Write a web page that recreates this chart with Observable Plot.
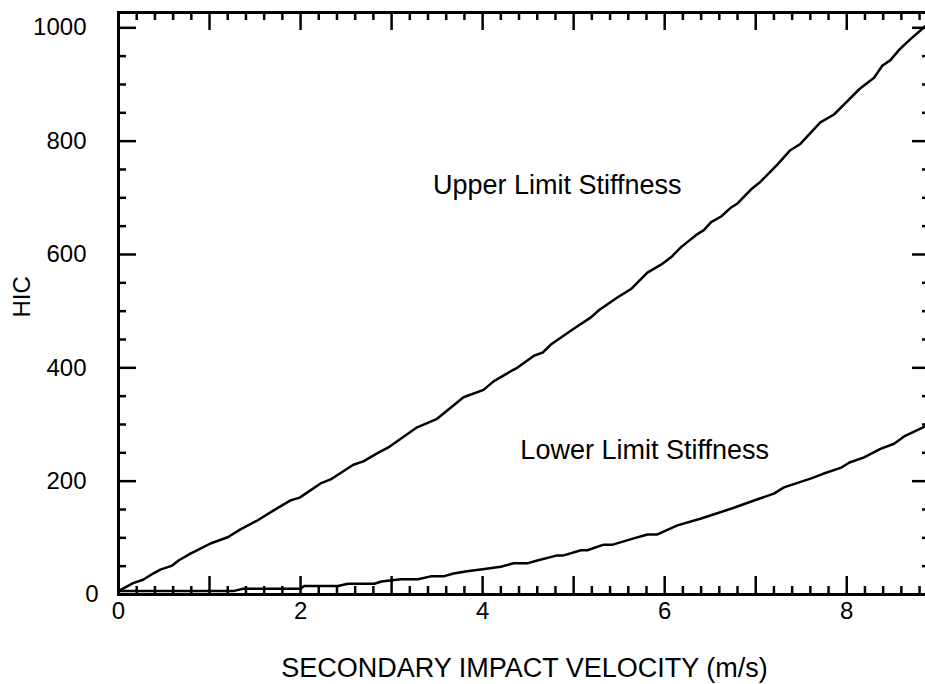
<!DOCTYPE html>
<html>
<head>
<meta charset="utf-8">
<script src="https://cdn.jsdelivr.net/npm/d3@7"></script>
<script src="https://cdn.jsdelivr.net/npm/@observablehq/plot@0.6"></script>
<style>
  html, body { margin: 0; padding: 0; background: #fff; }
  #chart { width: 925px; height: 684px; overflow: hidden; }
</style>
</head>
<body>
<div id="chart"></div>
<script>
// Upper limit stiffness curve (velocity m/s, HIC)
const upperX = [0,0.08,0.16,0.27,0.38,0.46,0.59,0.66,0.79,0.90,1.01,1.20,1.34,1.53,1.70,1.89,1.99,2.22,2.33,2.58,2.69,2.85,2.96,3.28,3.50,3.79,4.01,4.12,4.31,4.38,4.56,4.66,4.75,5.00,5.19,5.28,5.48,5.63,5.81,5.96,6.07,6.18,6.36,6.43,6.51,6.62,6.73,6.80,6.95,7.05,7.24,7.38,7.49,7.71,7.86,8.01,8.14,8.30,8.39,8.48,8.58,8.70,8.85,8.92];
const upperHIC = [6,13,20,26,37,44,51,60,72,81,90,101,115,131,148,166,171,196,203,229,235,250,259,295,310,348,361,376,394,400,421,427,441,469,489,502,524,539,568,582,595,613,636,643,657,667,683,690,715,728,759,784,795,833,847,871,892,912,933,943,962,980,1001,1012];

// Lower limit stiffness curve
const lowerX = [0,1.26,1.37,2.00,2.04,2.41,2.52,2.81,2.89,3.10,3.29,3.43,3.57,3.68,3.83,3.98,4.20,4.34,4.49,4.60,4.82,4.89,5.08,5.15,5.33,5.43,5.66,5.81,5.92,6.14,6.40,6.76,7.02,7.20,7.31,7.61,7.74,7.94,8.03,8.19,8.37,8.52,8.63,8.85,8.92];
const lowerHIC = [6,6,10,10,15,15,19,19,23,27,27,32,32,37,41,44,49,55,55,60,69,69,78,78,88,88,99,106,106,122,134,153,168,178,189,205,213,224,233,242,257,266,279,296,303];

// Tick labels
const xTickLabels = [0, 2, 4, 6, 8];
const yTickLabels = [200, 400, 600, 800, 1000];
const yZeroLabel = [0];

// Annotations
const annotationText = ["Upper Limit Stiffness", "Lower Limit Stiffness"];
const annotationX = [4.82, 5.78];
const annotationHIC = [722, 254];

const xTitle = "SECONDARY IMPACT VELOCITY (m/s)";
const yTitle = "HIC";

const upper = upperX.map((x, i) => ({x, y: upperHIC[i]}));
const lower = lowerX.map((x, i) => ({x, y: lowerHIC[i]}));
const notes = annotationText.map((t, i) => ({t, x: annotationX[i], y: annotationHIC[i]}));

const W = 925, H = 684, ML = 118, MR = -5, MT = 12, MB = 90;
const FW = W - ML - MR, FH = H - MT - MB;
const MAJ = 18, MIN = 8;

const xMajor = d3.range(0, 9, 1);
const xMinor = d3.range(0, 45).map(i => i * 0.2).filter(v => v <= 8.9 && Math.abs(v - Math.round(v)) > 1e-6);
const yMajor = d3.range(0, 1001, 200);
const yMinor = d3.range(0, 1001, 50).filter(v => v % 200 !== 0);

const tickStyle = {stroke: "black", strokeWidth: 2.5};

const chart = Plot.plot({
  width: W, height: H,
  marginLeft: ML, marginRight: MR, marginTop: MT, marginBottom: MB,
  style: {fontFamily: "'Liberation Sans', Arial, sans-serif", fontSize: "24px", color: "black", background: "white"},
  x: {domain: [0, 8.92]},
  y: {domain: [0, 1027]},
  marks: [
    Plot.frame({stroke: "black", strokeWidth: 3}),
    // bottom & top x ticks (inward)
    Plot.tickX(xMajor, {x: d => d, insetTop: FH - MAJ, ...tickStyle}),
    Plot.tickX(xMinor, {x: d => d, insetTop: FH - MIN, ...tickStyle}),
    Plot.tickX(xMajor, {x: d => d, insetBottom: FH - MAJ, ...tickStyle}),
    Plot.tickX(xMinor, {x: d => d, insetBottom: FH - MIN, ...tickStyle}),
    // left & right y ticks (inward)
    Plot.tickY(yMajor, {y: d => d, insetRight: FW - MAJ, ...tickStyle}),
    Plot.tickY(yMinor, {y: d => d, insetRight: FW - MIN, ...tickStyle}),
    Plot.tickY(yMajor, {y: d => d, insetLeft: FW - MAJ, ...tickStyle}),
    Plot.tickY(yMinor, {y: d => d, insetLeft: FW - MIN, ...tickStyle}),
    Plot.axisX(xTickLabels, {tickSize: 0, tickPadding: 7, tickFormat: d => String(d), label: null, fontSize: 24}),
    Plot.axisY(yTickLabels, {tickSize: 0, tickPadding: 32, tickFormat: d => String(d), label: null, fontSize: 24}),
    Plot.axisY(yZeroLabel, {tickSize: 0, tickPadding: 20, tickFormat: d => String(d), label: null, fontSize: 24}),
    Plot.line(upper, {x: "x", y: "y", stroke: "black", strokeWidth: 2.5}),
    Plot.line(lower, {x: "x", y: "y", stroke: "black", strokeWidth: 2.5}),
    Plot.text(notes, {x: "x", y: "y", text: "t", fontSize: 27, fill: "black"}),
    Plot.text([xTitle], {frameAnchor: "bottom", dy: 82, fontSize: 27, fill: "black"}),
    Plot.text([yTitle], {frameAnchor: "left", dx: -96, dy: 14, rotate: -90, fontSize: 24, fill: "black"})
  ]
});
document.getElementById("chart").appendChild(chart);
</script>
</body>
</html>
